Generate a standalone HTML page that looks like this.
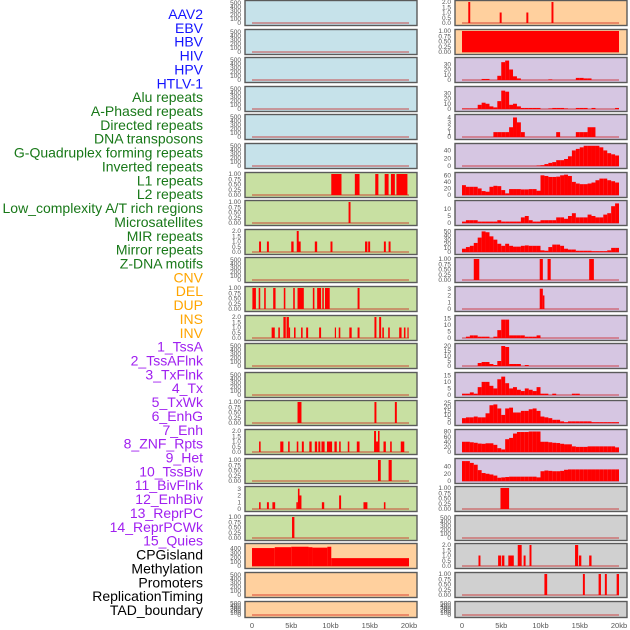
<!DOCTYPE html>
<html><head><meta charset="utf-8"><style>
html,body{margin:0;padding:0;background:#fff;}
svg{display:block;font-family:"Liberation Sans",sans-serif;}
</style></head><body>
<svg id="chart" width="630" height="630" viewBox="0 0 630 630"></svg>
<script>
// ---------- labels ----------
const labelNames = ["AAV2","EBV","HBV","HIV","HPV","HTLV-1","Alu repeats","A-Phased repeats","Directed repeats","DNA transposons","G-Quadruplex forming repeats","Inverted repeats","L1 repeats","L2 repeats","Low_complexity A/T rich regions","Microsatellites","MIR repeats","Mirror repeats","Z-DNA motifs","CNV","DEL","DUP","INS","INV","1_TssA","2_TssAFlnk","3_TxFlnk","4_Tx","5_TxWk","6_EnhG","7_Enh","8_ZNF_Rpts","9_Het","10_TssBiv","11_BivFlnk","12_EnhBiv","13_ReprPC","14_ReprPCWk","15_Quies","CPGisland","Methylation","Promoters","ReplicationTiming","TAD_boundary"];
const labelGroups = ["v","v","v","v","v","v","r","r","r","r","r","r","r","r","r","r","r","r","r","c","c","c","c","c","s","s","s","s","s","s","s","s","s","s","s","s","s","s","s","k","k","k","k","k"];
const xTickVals = [0,5,10,15,20];
const xTickText = ["0","5kb","10kb","15kb","20kb"];

// ---------- right column binned histograms (0.5kb bins, 0..20kb) ----------
const R2 = [0,0,0,0,0,2,2,0,0,8,34,37,20,7,3,0,0,0,0,0,0,0,1,0,0,0,0,0,0,4,4,3,3,0,0,0,0,0,0,0];
const R3 = [1,1,1,1,8,12,10,5,3,15,35,33,8,10,5,2,2,2,2,2,0,0,1,2,2,2,1,0,0,2,2,2,0,2,0,0,0,0,0,2];
const R4 = [0,0,0,0,0,0,0,0,1,1,1,1,2,4,3,1,0,0,0,0,0,0,0,0,1,0,0,0,0,1,1,1,2,2,0,0,0,0,0,0];
const R5 = [0,0,0,0,0,0,0,0,0,0,0,0,0,0,0,0,0,0,0,1,2,5,8,10,15,15,18,25,40,44,48,52,52,52,52,48,40,33,30,27];
const R6 = [30,25,25,25,20,12,10,25,28,27,15,5,18,18,18,17,17,18,18,13,60,58,55,55,56,60,62,58,40,35,33,33,35,38,45,50,50,45,42,38];
const R7 = [1,2,2,2,1,1,1,1,1,2,1,1,1,1,1,4,5,2,1,1,2,2,2,2,4,4,3,5,7,4,4,4,6,5,4,4,6,7,12,14];
const R8 = [8,12,15,22,35,50,48,38,30,20,15,20,15,13,13,15,16,15,15,15,4,3,12,18,18,15,8,6,6,3,3,3,3,2,2,2,2,4,10,10];
const R11 = [0,1,2,2,1,1,1,0,1,6,14,14,2,2,2,2,1,1,1,2,0,0,0,0,0,0,0,0,0,0,0,0,0,0,0,0,0,0,0,0];
const R12 = [0,0,0,0,3,4,4,2,1,5,20,19,2,2,2,0,1,0,0,0,0,0,0,0,0,0,0,0,0,0,0,0,0,0,0,0,0,0,0,0];
const R13 = [1,1,2,1,6,10,10,7,5,12,14,9,5,6,4,3,5,4,3,6,1,1,0,1,0,0,0,0,1,1,0,0,0,0,0,0,0,0,0,0];
const R14 = [6,7,7,8,7,7,12,22,23,18,10,18,19,13,13,15,15,17,18,15,8,7,6,4,4,2,1,2,2,2,2,2,2,1,1,1,1,1,1,1];
const R15 = [40,40,38,36,33,32,34,34,28,15,10,50,55,72,78,78,78,80,80,80,40,40,38,36,35,32,30,30,22,20,20,20,22,22,22,22,22,22,22,18];
const R16 = [55,55,50,45,30,22,20,18,15,9,10,11,12,12,12,12,12,12,12,10,27,29,28,27,27,28,31,32,32,32,32,32,32,32,32,32,32,32,32,32];

// ---------- spike / segment tracks (start kb, end kb, value) ----------
const R0s = [0.8,4.8,8.2,11.4]; const R0e = [1.05,5.05,8.45,11.65]; const R0v = [2,1,1,2];
const R1s = [0]; const R1e = [20]; const R1v = [1];
const R9s = [1.5,9.9,10.9,16.2]; const R9e = [2.2,10.3,11.3,16.8]; const R9v = [1,1,1,1];
const R10s = [9.9,10.3]; const R10e = [10.3,10.5]; const R10v = [3,2];
const R17s = [4.9]; const R17e = [6.0]; const R17v = [1];
const R19s = [2.1,4.6,5.1,5.9,7.1,7.85,8.6,14.4,14.9,16.2]; const R19e = [2.35,5.0,5.4,6.6,7.6,8.1,8.85,14.8,15.2,16.5]; const R19v = [1,1,1,1,2,1,2,2,1,1];
const R20s = [10.5,15.4,17.4,18.2,19.7]; const R20e = [10.85,15.65,17.7,18.45,20.0]; const R20v = [1,1,1,1,1];

const L6s = [10.1,13.1,15.7,16.9,17.7,18.4]; const L6e = [11.4,13.7,16.1,17.4,18.2,19.8]; const L6v = [1,1,1,1,1,1];
const L7s = [12.3]; const L7e = [12.55]; const L7v = [1];
const L8s = [0.9,1.9,5.0,5.7,5.9,8.0,10.0,14.4,14.8,16.8,17.4]; const L8e = [1.15,2.15,5.3,5.95,6.2,8.3,10.25,14.7,15.05,17.05,17.65]; const L8v = [1,1,1,2,1,1,1,1,1,1,1];
const L10s = [0.05,0.85,1.55,2.7,4.05,5.25,5.8,7.75,8.3,8.95,9.3,13.45]; const L10e = [0.5,1.05,1.75,3.0,4.25,5.45,6.6,7.95,8.8,9.15,9.9,13.7]; const L10v = [1,1,1,1,1,1,1,1,1,1,1,1];
const L11s = [2.5,3.35,4.0,4.4,4.7,5.35,6.25,6.9,8.55,10.55,11.05,12.4,13.45,15.6,16.2,16.6,17.35,18.75,19.35,19.8]; const L11e = [2.9,3.55,4.3,4.7,4.85,5.55,6.45,7.15,8.8,10.7,11.25,12.7,13.7,15.85,16.45,16.8,17.55,19.05,19.55,19.95]; const L11v = [1,1,2,2,1,1,1,1,1,1,1,1,1,2,2,1,1,1,1,1];
const L14s = [5.8,15.6,18.2]; const L14e = [6.3,15.85,18.45]; const L14v = [1,1,1];
const L15s = [0.9,3.6,4.6,5.7,6.35,7.3,8.0,8.45,8.85,9.55,10.5,11.1,12.2,13.35,15.55,15.8,16.05,16.75,17.6,18.95]; const L15e = [1.1,4.0,4.8,5.9,6.6,7.6,8.3,8.7,9.25,10.2,10.8,11.3,12.4,13.7,15.8,16.05,16.25,17.05,17.8,19.4]; const L15v = [1,1,1,1,1,1,1,1,1,1,1,1,1,1,2,1,2,1,1,1];
const L16s = [16.05,17.4]; const L16e = [16.4,17.8]; const L16v = [1,1];
const L17s = [0.9,1.9,2.6,5.65,5.85,6.05,8.9,11.1,14.2,16.8]; const L17e = [1.1,2.15,2.95,5.85,6.05,6.3,9.2,11.35,14.7,17.0]; const L17v = [1,1,1,1,3,2,1,2,1,1];
const L18s = [5.1]; const L18e = [5.4]; const L18v = [1];
const L19s = [0,2.9,5.0,7.2,7.7,9.6,10.1]; const L19e = [2.9,5.0,7.2,7.7,9.6,10.1,20]; const L19v = [410,430,440,430,420,440,180];

// ---------- panel specs ----------
const emptyTicks = [0,100,200,300,400,500];
const unitTicks = [0,0.25,0.5,0.75,1];
const twoTicks = [0,0.5,1,1.5,2];
const leftBg = ["b","b","b","b","b","b","g","g","g","g","g","g","g","g","g","g","g","g","g","o","o","o"];
const rightBg = ["o","o","p","p","p","p","p","p","p","p","p","p","p","p","p","p","p","y","y","y","y","y"];

const NS = "http://www.w3.org/2000/svg";
const svg = document.getElementById("chart");
const bgColor = {b:"#c6e2ea", g:"#c8e0a2", o:"#ffd09e", p:"#d6c6e2", y:"#d0d0d0"};
const labelColor = {v:"#1414ff", r:"#187818", c:"#ffa500", s:"#a020f0", k:"#000000"};

function el(tag, attrs){ const e=document.createElementNS(NS,tag); for(const k in attrs) e.setAttribute(k,attrs[k]); return e; }
function panelTop(row){ return Math.round(row*28.6)+0.5; }
function panelH(row){ return row===21 ? 16 : 25; }
function xScale(col, kb){ return (col===0?252:462) + kb*7.85; }
function yScale(row, ymax, v){ const t=panelTop(row), h=panelH(row); const y0=t+h-2.5, y1=t+1.5; return y0 - (v/ymax)*(y0-y1); }
function fmtTick(ticks, v){
  if (ticks===unitTicks) return v.toFixed(2);
  if (ticks===twoTicks) return v.toFixed(1);
  return String(v);
}

// labels
labelNames.forEach((name,i)=>{
  const t = el("text",{x:203,y:(14+i*13.86).toFixed(1),"text-anchor":"end","dominant-baseline":"central","font-size":"14",fill:labelColor[labelGroups[i]]});
  
  
  t.textContent = name;
  svg.appendChild(t);
});

function drawPanel(col,row,bgKey,ymax,ticks){
  const x = col===0?245:455, t = panelTop(row), h = panelH(row);
  const r = el("rect",{x:x,y:t,width:172,height:h,fill:bgColor[bgKey],stroke:"#5a5a5a","stroke-width":"1.4"});
  
  
  svg.appendChild(r);
  ticks.forEach(v=>{
    const tx = el("text",{x:x-4,y:(yScale(row,ymax,v)+2.2).toFixed(1),"text-anchor":"end","font-size":"6.5",fill:"#555"});
    
    
    tx.textContent = fmtTick(ticks,v);
    svg.appendChild(tx);
  });
  // baseline 0..20kb
  const by = yScale(row,ymax,0);
  const bl = el("line",{x1:xScale(col,0),x2:xScale(col,20),y1:by,y2:by,stroke:"rgba(200,0,0,0.45)","stroke-width":"1.5"});
  
  
  svg.appendChild(bl);
}
function drawSegs(col,row,ymax,starts,ends,vals){
  vals.forEach((v,i)=>{
    if (v<=0) return;
    const x1=xScale(col,starts[i]), x2=xScale(col,ends[i]);
    const y=yScale(row,ymax,v), y0=yScale(row,ymax,0);
    const b = el("rect",{x:x1.toFixed(2),y:y.toFixed(2),width:Math.max(1.2,x2-x1).toFixed(2),height:(y0-y).toFixed(2),fill:"#ff0000"});
    
    
    svg.appendChild(b);
  });
}
function drawBins(col,row,ymax,vals){
  const s = vals.map((v,i)=>i*0.5), e = vals.map((v,i)=>i*0.5+0.5);
  drawSegs(col,row,ymax,s,e,vals);
}

// ----- left column -----
const leftSpec = {
  6:[1,unitTicks,L6s,L6e,L6v], 7:[1,unitTicks,L7s,L7e,L7v], 8:[2,twoTicks,L8s,L8e,L8v],
  10:[1,unitTicks,L10s,L10e,L10v], 11:[2,twoTicks,L11s,L11e,L11v], 14:[1,unitTicks,L14s,L14e,L14v],
  15:[2,twoTicks,L15s,L15e,L15v], 16:[1,unitTicks,L16s,L16e,L16v], 17:[3.1,[0,1,2,3],L17s,L17e,L17v],
  18:[1,unitTicks,L18s,L18e,L18v], 19:[480,[0,100,200,300,400],L19s,L19e,L19v]
};
for (let row=0; row<22; row++){
  const sp = leftSpec[row];
  if (sp){ drawPanel(0,row,leftBg[row],sp[0],sp[1]); drawSegs(0,row,sp[0],sp[2],sp[3],sp[4]); }
  else drawPanel(0,row,leftBg[row],520,emptyTicks);
}

// ----- right column -----
const rightBins = {
  2:[40,[0,10,20,30],R2], 3:[40,[0,10,20,30],R3], 4:[4.3,[0,1,2,3,4],R4], 5:[54,[0,20,40],R5],
  6:[64,[0,20,40,60],R6], 7:[15,[0,5,10],R7], 8:[51,[0,10,20,30,40,50],R8],
  11:[16,[0,5,10,15],R11], 12:[21,[0,5,10,15,20],R12], 13:[16,[0,5,10,15],R13],
  14:[26,[0,5,10,15,20,25],R14], 15:[82,[0,20,40,60,80],R15], 16:[58,[0,20,40],R16]
};
const rightSegs = {
  0:[2,twoTicks,R0s,R0e,R0v], 1:[1,unitTicks,R1s,R1e,R1v], 9:[1,unitTicks,R9s,R9e,R9v],
  10:[3.1,[0,1,2,3],R10s,R10e,R10v], 17:[1,unitTicks,R17s,R17e,R17v],
  19:[2,twoTicks,R19s,R19e,R19v], 20:[1,unitTicks,R20s,R20e,R20v]
};
for (let row=0; row<22; row++){
  if (rightBins[row]){ const b=rightBins[row]; drawPanel(1,row,rightBg[row],b[0],b[1]); drawBins(1,row,b[0],b[2]); }
  else if (rightSegs[row]){ const s=rightSegs[row]; drawPanel(1,row,rightBg[row],s[0],s[1]); drawSegs(1,row,s[0],s[2],s[3],s[4]); }
  else drawPanel(1,row,rightBg[row],520,emptyTicks);
}

// x axis ticks
[0,1].forEach(col=>{
  xTickVals.forEach((v,i)=>{
    const t = el("text",{x:xScale(col,v).toFixed(1),y:628,"text-anchor":"middle","font-size":"7.5",fill:"#555"});
    
    
    t.textContent = xTickText[i];
    svg.appendChild(t);
  });
});
</script>
</body></html>
